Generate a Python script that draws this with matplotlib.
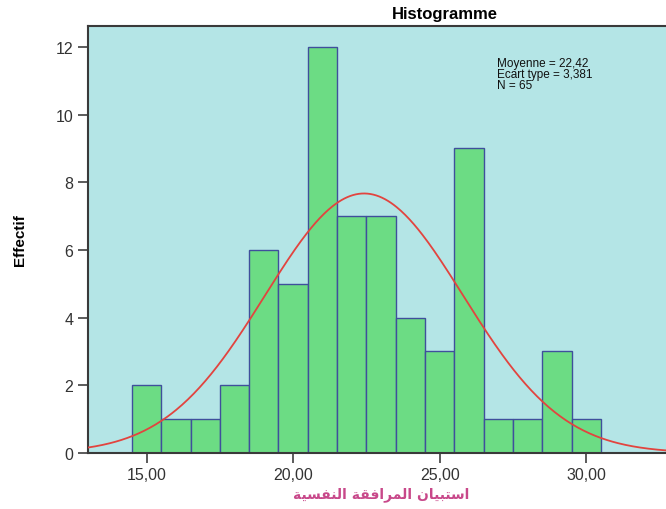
import numpy as np
import matplotlib
matplotlib.use('Agg')
import matplotlib.pyplot as plt

plt.rcParams['font.family'] = ['Liberation Sans', 'DejaVu Sans']

# histogram data (bins of width 1, from 14.5 to 30.5)
bin_edges = [14.5, 15.5, 16.5, 17.5, 18.5, 19.5, 20.5, 21.5, 22.5,
             23.5, 24.5, 25.5, 26.5, 27.5, 28.5, 29.5, 30.5]
counts = [2, 1, 1, 2, 6, 5, 12, 7, 7, 4, 3, 9, 1, 1, 3, 1]

# stats shown in the box
mean_val = 22.42
std_val = 3.381
n_val = 65

x_ticks = [15, 20, 25, 30]
x_tick_labels = ['15,00', '20,00', '25,00', '30,00']
y_ticks = [0, 2, 4, 6, 8, 10, 12]

# Arabic label "استبيان المرافقة النفسية" written in presentation forms,
# visual order, since matplotlib does not shape Arabic
word1 = '\uFE8D\uFEB3\uFE98\uFE92\uFEF4\uFE8E\uFEE5'          # استبيان
word2 = '\uFE8D\uFEDF\uFEE4\uFEAE\uFE8D\uFED3\uFED8\uFE94'    # المرافقة
word3 = '\uFE8D\uFEDF\uFEE8\uFED4\uFEB4\uFEF4\uFE94'          # النفسية
x_label = (word1 + ' ' + word2 + ' ' + word3)[::-1]

fig = plt.figure(figsize=(6.66, 5.10), dpi=100)
ax = fig.add_axes([0.132, 0.110, 0.868, 0.837])
ax.set_facecolor('#b4e5e6')

widths = np.diff(bin_edges)
ax.bar(bin_edges[:-1], counts, width=widths, align='edge',
       color='#6cdc84', edgecolor='#3f4f9c', linewidth=1.0, zorder=2)

# normal curve from mean / sd / N
xs = np.linspace(13.0, 32.72, 400)
ys = n_val * 1.0 / (std_val * np.sqrt(2 * np.pi)) * np.exp(-0.5 * ((xs - mean_val) / std_val) ** 2)
ax.plot(xs, ys, color='#e2443f', linewidth=1.3, zorder=3)

ax.set_xlim(13.0, 32.72)
ax.set_ylim(0, 12.62)
ax.set_xticks(x_ticks)
ax.set_xticklabels(x_tick_labels)
ax.set_yticks(y_ticks)

ax.tick_params(axis='both', direction='out', length=7, width=1.2,
               colors='#404040', labelsize=11.5, labelcolor='#333333')
for side in ['left', 'bottom', 'top']:
    ax.spines[side].set_color('#3a3a3a')
    ax.spines[side].set_linewidth(1.5)
ax.spines['right'].set_visible(False)

ax.text(0.707, 0.928,
        'Moyenne = 22,42\nEcart type = 3,381\nN = 65',
        transform=ax.transAxes, fontsize=8.5, va='top', ha='left',
        linespacing=0.9, color='#111111')

fig.text(0.668, 0.972, 'Histogramme', ha='center', va='center',
         fontsize=12, fontweight='bold')
fig.text(0.03, 0.53, 'Effectif', rotation=90, ha='center', va='center',
         fontsize=11, fontweight='bold')
fig.text(0.572, 0.03, x_label, ha='center', va='center',
         fontsize=10, color='#c8488a', fontweight='bold',
         family='DejaVu Sans')

plt.savefig('out.png', dpi=100)
